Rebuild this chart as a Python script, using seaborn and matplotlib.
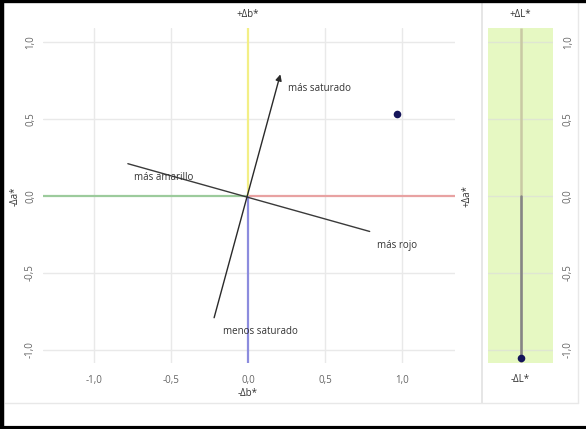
import matplotlib
matplotlib.use("Agg")
import matplotlib.pyplot as plt
from matplotlib.lines import Line2D
import seaborn as sns
import pandas as pd

# Colour difference values
delta_a = [0.97]
delta_b = [0.53]
delta_L = [-1.05]

# Hue-angle reference lines (saturation direction and hue direction)
sat_a = [-0.22, 0.21]
sat_b = [-0.79, 0.79]
hue_a = [-0.78, 0.79]
hue_b = [0.21, -0.23]

tick_vals = [-1.0, -0.5, 0.0, 0.5, 1.0]
tick_labels = ["-1,0", "-0,5", "0,0", "0,5", "1,0"]

sns.set_style("white")
plt.rcParams["font.family"] = ["Open Sans", "DejaVu Sans"]

W, H = 586, 429
fig = plt.figure(figsize=(W / 100, H / 100), dpi=100)
fig.patch.set_facecolor("white")


def rect(x0, y0, x1, y1):
    # pixel box (top-left origin) -> figure fraction rect
    return [x0 / W, 1 - y1 / H, (x1 - x0) / W, (y1 - y0) / H]


grid_c = "#e9e9e9"
tick_c = "#666666"
text_c = "#333333"

# ---- a*/b* plane ----
ax = fig.add_axes(rect(43, 28, 455, 363))
xlim = (-1.331, 1.344)
ylim = (-1.084, 1.091)
ax.set_xlim(*xlim)
ax.set_ylim(*ylim)
for s in ax.spines.values():
    s.set_visible(False)
ax.set_xticks(tick_vals)
ax.set_xticklabels(tick_labels)
ax.set_yticks(tick_vals)
ax.set_yticklabels(tick_labels, rotation=90, va="center")
ax.tick_params(length=0, labelsize=7, colors=tick_c)
ax.tick_params(axis="x", pad=9)
ax.tick_params(axis="y", pad=5)
for v in tick_vals:
    if v != 0:
        ax.axvline(v, color=grid_c, lw=1, zorder=0)
        ax.axhline(v, color=grid_c, lw=1, zorder=0)

ax.hlines(0, 0, xlim[1], color="#e8a2a2", lw=1.6, zorder=1)
ax.hlines(0, xlim[0], 0, color="#9ccb9c", lw=1.6, zorder=1)
ax.vlines(0, 0, ylim[1], color="#f3ef86", lw=1.6, zorder=1)
ax.vlines(0, ylim[0], 0, color="#8c8cde", lw=1.6, zorder=1)

sns.lineplot(x=hue_a, y=hue_b, ax=ax, color="#3a3a3a", lw=1.0, sort=False, zorder=3)
ax.annotate("", xy=(sat_a[1], sat_b[1]), xytext=(sat_a[0], sat_b[0]),
            arrowprops=dict(arrowstyle="-|>", color="#2a2a2a", lw=1.0,
                            mutation_scale=9, shrinkA=0, shrinkB=0), zorder=3)

lab_kw = dict(fontsize=7, color=text_c, zorder=4)
ax.text(sat_a[1] + 0.05, sat_b[1] - 0.09, "más saturado", ha="left", va="center", **lab_kw)
ax.text(hue_a[0] + 0.23, hue_b[0] - 0.09, "más amarillo", ha="center", va="center", **lab_kw)
ax.text(hue_a[1] + 0.18, hue_b[1] - 0.09, "más rojo", ha="center", va="center", **lab_kw)
ax.text(sat_a[0] + 0.30, sat_b[0] - 0.09, "menos saturado", ha="center", va="center", **lab_kw)

sns.scatterplot(x=delta_a, y=delta_b, ax=ax, color="#14145a", s=30,
                edgecolor="#14145a", linewidth=0, zorder=5)

ax_lab = dict(fontsize=7, color=text_c)
ax.text(0, 1.04, "+Δb*", transform=ax.get_xaxis_transform(), ha="center", va="center", **ax_lab)
ax.text(0, -0.09, "-Δb*", transform=ax.get_xaxis_transform(), ha="center", va="center", **ax_lab)
ax.text(-0.068, 0, "-Δa*", transform=ax.get_yaxis_transform(), ha="center", va="center",
        rotation=90, **ax_lab)
ax.text(1.029, 0, "+Δa*", transform=ax.get_yaxis_transform(), ha="center", va="center",
        rotation=90, **ax_lab)

# ---- L* bar ----
axL = fig.add_axes(rect(488, 28, 553, 363))
axL.set_facecolor("#e6f8c2")
axL.set_xlim(-1, 1)
axL.set_ylim(*ylim)
for s in axL.spines.values():
    s.set_visible(False)
axL.set_xticks([])
axL.yaxis.tick_right()
axL.set_yticks(tick_vals)
axL.set_yticklabels(tick_labels, rotation=90, va="center")
axL.tick_params(length=0, labelsize=7, colors=tick_c, pad=7)
for v in tick_vals:
    axL.axhline(v, color="#dfe6d2", lw=1, zorder=0)

axL.vlines(0, ylim[0], ylim[1], color="#c9c9a4", lw=1.8, zorder=1)
dfL = pd.DataFrame({"x": [0, 0], "L": [0, delta_L[0]]})
sns.lineplot(data=dfL, x="x", y="L", ax=axL, color="#858585", lw=1.8, sort=False,
             estimator=None, zorder=2)
sns.scatterplot(x=[0], y=delta_L, ax=axL, color="#14145a", s=30, linewidth=0, zorder=3)
axL.text(0, 1.04, "+ΔL*", transform=axL.get_xaxis_transform(), ha="center", va="center", **ax_lab)
axL.text(0, -0.05, "-ΔL*", transform=axL.get_xaxis_transform(), ha="center", va="center", **ax_lab)
axL.set_xlabel("")
axL.set_ylabel("")
ax.set_xlabel("")
ax.set_ylabel("")

# ---- frame ----
def fl(x0, y0, x1, y1, color, lw):
    fig.add_artist(Line2D([x0 / W, x1 / W], [1 - y0 / H, 1 - y1 / H],
                          transform=fig.transFigure, color=color, lw=lw))

fl(482, 3, 482, 403, "#e2e2e2", 1.2)
fl(578, 3, 578, 403, "#e8e8e8", 1.0)
fl(5, 403, 578, 403, "#e8e8e8", 1.0)
fl(0, 1.2, W, 1.2, "black", 2.4)
fl(1.5, 0, 1.5, H, "black", 3.2)
fl(0, H - 1.5, W, H - 1.5, "black", 3.0)

fig.savefig("out.png", dpi=100, facecolor="white")
